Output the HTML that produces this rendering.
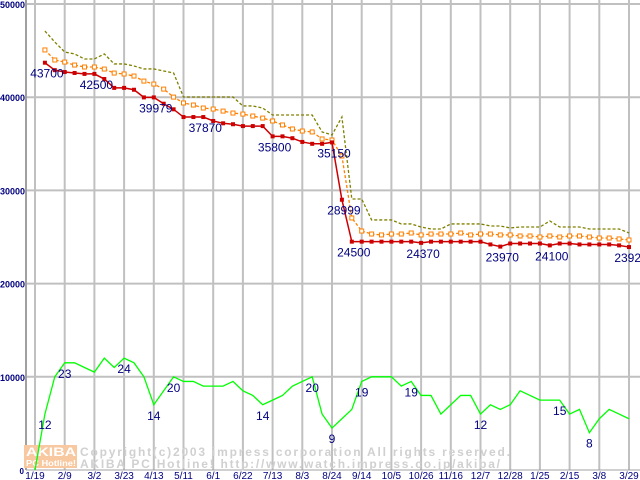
<!DOCTYPE html>
<html><head><meta charset="utf-8"><style>
html,body{margin:0;padding:0;background:#fff;}
svg{display:block;}
text{font-family:"Liberation Sans",sans-serif;}
</style></head><body>
<svg id="chart" width="640" height="480" xmlns="http://www.w3.org/2000/svg"></svg>
<script>
const xLabels=["1/19","2/9","3/2","3/23","4/13","5/11","6/1","6/22","7/13","8/3","8/24","9/14","10/5","10/26","11/16","12/7","12/28","1/25","2/15","3/8","3/29"];
const yTicks=[0,10000,20000,30000,40000,50000];
const redVals=[null,43700,42900,42700,42600,42500,42500,41950,41000,41000,40800,39979,39979,39300,38700,37870,37870,37870,37450,37200,37100,36900,36900,36900,35800,35800,35600,35200,35000,35000,35150,28999,24500,24500,24500,24500,24500,24500,24500,24370,24500,24500,24500,24500,24500,24500,24200,23970,24300,24300,24300,24300,24100,24300,24300,24200,24200,24200,24200,24100,23920];
const orangeVals=[null,45070,43990,43770,43450,43240,43240,43020,42590,42490,42270,41730,41410,40870,40010,39380,39160,38840,38730,38510,38300,38190,37980,37760,37450,37020,36590,36370,36270,35520,35410,33690,27040,25640,25320,25220,25320,25320,25430,25220,25320,25320,25320,25430,25220,25320,25320,25220,25220,25110,25110,25000,25110,25000,25110,25110,25000,24890,24890,24790,24680];
const oliveVals=[null,47100,45920,44850,44640,44100,44100,44640,43570,43570,43350,43030,43030,42810,42600,40020,40020,40020,40020,40020,40020,39060,39060,38840,38090,38090,38090,38090,38090,36270,35950,37880,29080,29080,26830,26830,26830,26400,26400,26070,25860,25860,26400,26400,26400,26400,26180,26180,25970,26070,26070,26070,26720,26070,26070,26070,25860,25860,25860,25860,25430];
const countVals=[0,12,20,23,23,22,21,24,22,24,23,20,14,17,20,19,19,18,18,18,19,17,16,14,15,16,18,19,20,12,9,11,13,19,20,20,20,18,19,16,16,12,14,16,16,12,14,13,14,17,16,15,15,15,12,13,8,11,13,12,11];
const redLabels={1:"43700",6:"42500",12:"39979",17:"37870",24:"35800",30:"35150",31:"28999",32:"24500",39:"24370",47:"23970",52:"24100",60:"23920"};
const countLabelIdx=[1,3,9,12,14,23,28,30,33,38,45,53,56];
const COUNT_SCALE=500;

const svg=document.getElementById('chart');
const NS='http://www.w3.org/2000/svg';
function xw(k){return 35+k*9.9;}
function yv(v){return 470-v*0.00932;}
function mk(tag,attrs,parent){const e=document.createElementNS(NS,tag);for(const k in attrs)e.setAttribute(k,attrs[k]);(parent||svg).appendChild(e);return e;}

yTicks.forEach((t,i)=>{
  if(t>0){const l=mk('line',{x1:26,x2:640,y1:yv(t),y2:yv(t),stroke:'#c0c0c0','stroke-width':2});
  
  }
  const tx=mk('text',{x:t===0?24:25,y:yv(t)+4,'text-anchor':'end','font-size':t===0?8:9,'font-weight':'bold',fill:'#000080'});
  tx.textContent=String(t);
  
  
});
xLabels.forEach((lab,j)=>{
  const x=xw(j*3);
  const l=mk('line',{x1:x,x2:x,y1:0,y2:470,stroke:'#c0c0c0','stroke-width':2});
  
  
  const tx=mk('text',{x:x,y:479,'text-anchor':'middle','font-size':10,fill:'#000080'});
  tx.textContent=lab;
  
  
});
const ax=mk('line',{x1:26,x2:26,y1:0,y2:470,stroke:'#a0a0a0','stroke-width':2});


const bx=mk('line',{x1:26,x2:640,y1:470,y2:470,stroke:'#a0a0a0','stroke-width':1});



const g=mk('g',{});


mk('rect',{x:24,y:445,width:53,height:23,fill:'#f8c8a0'},g);
const w1=mk('text',{x:26,y:456,'font-size':12,'font-weight':'bold',fill:'#fff',textLength:50,lengthAdjust:'spacingAndGlyphs'},g);w1.textContent='AKIBA';
const w2=mk('text',{x:26,y:466,'font-size':8,'font-weight':'bold',fill:'#fff',textLength:50,lengthAdjust:'spacingAndGlyphs'},g);w2.textContent='PC Hotline!';
const w3=mk('text',{x:80,y:456,'font-size':12,'font-weight':'bold',fill:'#d0d0d0','font-family':'Liberation Mono,monospace',textLength:430,lengthAdjust:'spacing'},g);w3.textContent='Copyright(c)2003 impress corporation All rights reserved.';
const w4=mk('text',{x:80,y:468,'font-size':12,'font-weight':'bold',fill:'#d0d0d0','font-family':'Liberation Mono,monospace',textLength:420,lengthAdjust:'spacing'},g);w4.textContent='AKIBA PC Hotline!  http://www.watch.impress.co.jp/akiba/';

function pts(arr,scale){const p=[];arr.forEach((v,k)=>{if(v!==null)p.push([xw(k),yv(v*scale)]);});return p;}
function line(arr,scale,color,dash,name,w){
  const p=pts(arr,scale);
  const e=mk('polyline',{points:p.map(q=>q.join(',')).join(' '),fill:'none',stroke:color,'stroke-width':w||1.5});
  if(dash)e.setAttribute('stroke-dasharray',dash);
  
  
  return p;
}
line(oliveVals,1,'#808000','3,2','max-price-line',1.3);
const op=line(orangeVals,1,'#ff8000','3,2','avg-price-line',1.3);
op.forEach(q=>{const r=mk('rect',{x:q[0]-2,y:q[1]-2,width:4,height:4,fill:'#fff',stroke:'#ff8000','stroke-width':1});
  
  });
const rp=line(redVals,1,'#cc0000',null,'min-price-line',1.5);
rp.forEach(q=>{const r=mk('rect',{x:q[0]-2,y:q[1]-2,width:4,height:4,fill:'#cc0000'});
  
  });
line(countVals,COUNT_SCALE,'#00ff00',null,'shop-count-line',1.3);

for(const k in redLabels){
  const t=mk('text',{x:xw(+k)+2,y:yv(redVals[k])+15,'text-anchor':'middle','font-size':12,fill:'#000080'});
  t.textContent=redLabels[k];
  
  
}
countLabelIdx.forEach(k=>{
  const t=mk('text',{x:xw(k),y:yv(countVals[k]*COUNT_SCALE)+15,'text-anchor':'middle','font-size':12,fill:'#000080'});
  t.textContent=String(countVals[k]);
  
  
});
</script>
</body></html>
